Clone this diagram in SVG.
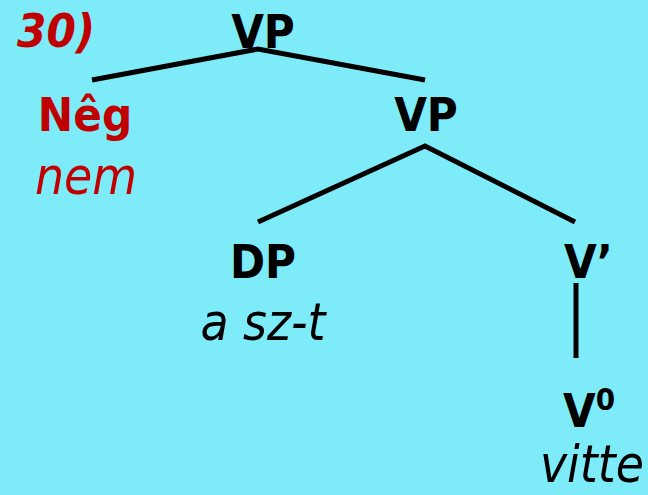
<svg xmlns="http://www.w3.org/2000/svg" width="648" height="495" viewBox="0 0 648 495">
  <style>
    .lbl { font-family: "DejaVu Sans", "Liberation Sans", sans-serif; font-stretch: condensed; font-size: 47px; font-weight: bold; fill: #000; }
    .gloss { font-family: "DejaVu Sans", "Liberation Sans", sans-serif; font-stretch: condensed; font-size: 51px; font-style: italic; fill: #000; }
    .red { fill: #c00000; }
    .edge { stroke: #000; stroke-width: 5; fill: none; }
  </style>
  <rect width="648" height="495" fill="#7eebf9"/>

  <text x="17" y="47" class="lbl red" style="font-style: italic">30)</text>

  <g id="edges">
    <path class="edge" d="M92,80 L258,49 L425,80"/>
    <path class="edge" d="M258,222 L425,146 L575,222"/>
    <path class="edge" d="M576,283 L576,358"/>
  </g>

  <g id="vp-top"><text x="263" y="48" class="lbl" text-anchor="middle">VP</text></g>
  <g id="neg">
    <text x="85" y="131" class="lbl red" text-anchor="middle">Nêg</text>
    <text x="86" y="194" class="gloss red" text-anchor="middle">nem</text>
  </g>
  <g id="vp-low"><text x="426" y="131" class="lbl" text-anchor="middle">VP</text></g>
  <g id="dp">
    <text x="263" y="278" class="lbl" text-anchor="middle">DP</text>
    <text x="263" y="340" class="gloss" text-anchor="middle">a sz-t</text>
  </g>
  <g id="v-bar"><text x="564" y="278" class="lbl">V’</text></g>
  <g id="v0">
    <text x="563" y="427" class="lbl">V<tspan font-size="31" dy="-17">0</tspan></text>
    <text x="644" y="482" class="gloss" text-anchor="end">vitte</text>
  </g>
</svg>
